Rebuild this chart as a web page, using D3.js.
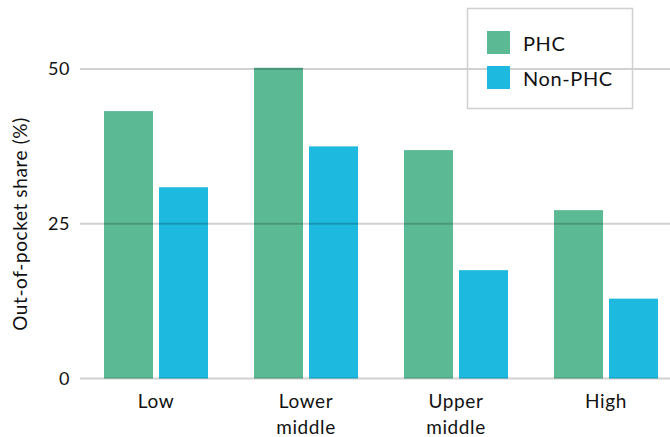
<!DOCTYPE html>
<html>
<head>
<meta charset="utf-8">
<script src="https://cdn.jsdelivr.net/npm/d3@7"></script>
<style>
  html, body { margin: 0; padding: 0; background: #fff; }
  svg { display: block; }
  text { font-family: Lato, "Noto Sans", sans-serif; fill: #111; letter-spacing: 0.6px; }
</style>
</head>
<body>
<svg id="chart" width="670" height="437"></svg>
<script>
// Income groups and out-of-pocket shares (%)
const categories = [["Low"], ["Lower", "middle"], ["Upper", "middle"], ["High"]];
const seriesNames = ["PHC", "Non-PHC"];
const phcValues = [43.2, 50.2, 36.9, 27.2];
const nonPhcValues = [30.9, 37.5, 17.5, 12.9];
const yTicks = [0, 25, 50];
const colors = ["#5bb994", "#1db9df"];

const svg = d3.select("#chart");
const W = 670;

const x0 = d3.scaleBand()
  .domain(categories.map(c => c.join(" ")))
  .range([81, 681])
  .paddingInner(0);

const x1 = d3.scaleBand()
  .domain(seriesNames)
  .range([23, 127])
  .paddingInner(6 / 55);

const y = d3.scaleLinear().domain([0, 50]).range([378.5, 69]);

const rows = categories.map((c, i) => ({
  key: c.join(" "),
  lines: c,
  values: [phcValues[i], nonPhcValues[i]]
}));

// Bars
const groups = svg.append("g").selectAll("g")
  .data(rows).join("g")
  .attr("transform", d => `translate(${x0(d.key)},0)`);

groups.selectAll("rect")
  .data(d => d.values.map((v, j) => ({ name: seriesNames[j], v, j })))
  .join("rect")
  .attr("x", d => x1(d.name))
  .attr("width", x1.bandwidth())
  .attr("y", d => y(d.v))
  .attr("height", d => y(0) - y(d.v))
  .attr("fill", d => colors[d.j]);

// Gridlines drawn over the bars, semi-transparent
svg.append("g").selectAll("line")
  .data(yTicks).join("line")
  .attr("x1", 80).attr("x2", W)
  .attr("y1", d => y(d)).attr("y2", d => y(d))
  .attr("stroke", "#000")
  .attr("stroke-opacity", 0.18)
  .attr("stroke-width", 2);

// Y tick labels
svg.append("g").selectAll("text")
  .data(yTicks).join("text")
  .attr("x", 70)
  .attr("y", d => y(d))
  .attr("dy", "0.35em")
  .attr("text-anchor", "end")
  .attr("font-size", 18)
  .text(d => d);

// Category labels
const catLabels = svg.append("g").selectAll("text")
  .data(rows).join("text")
  .attr("text-anchor", "middle")
  .attr("font-size", 19)
  .attr("transform", d => `translate(${x0(d.key) + x0.bandwidth() / 2},408)`);

catLabels.selectAll("tspan")
  .data(d => d.lines).join("tspan")
  .attr("x", 0)
  .attr("y", (d, i) => i * 26)
  .text(d => d);

// Y axis title
svg.append("text")
  .attr("transform", "translate(27,224) rotate(-90)")
  .attr("text-anchor", "middle")
  .attr("font-size", 19)
  .text("Out-of-pocket share (%)");

// Legend
const legend = svg.append("g");
legend.append("rect")
  .attr("x", 467.5).attr("y", 8.5)
  .attr("width", 165).attr("height", 100)
  .attr("fill", "none")
  .attr("stroke", "#d0d0d0")
  .attr("stroke-width", 1.5);

const items = legend.selectAll("g.item")
  .data(seriesNames).join("g")
  .attr("class", "item")
  .attr("transform", (d, i) => `translate(487,${31 + i * 35})`);

items.append("rect")
  .attr("width", 23).attr("height", 23)
  .attr("fill", (d, i) => colors[i]);

items.append("text")
  .attr("x", 36).attr("y", 20)
  .attr("font-size", 20)
  .text(d => d);
</script>
</body>
</html>
